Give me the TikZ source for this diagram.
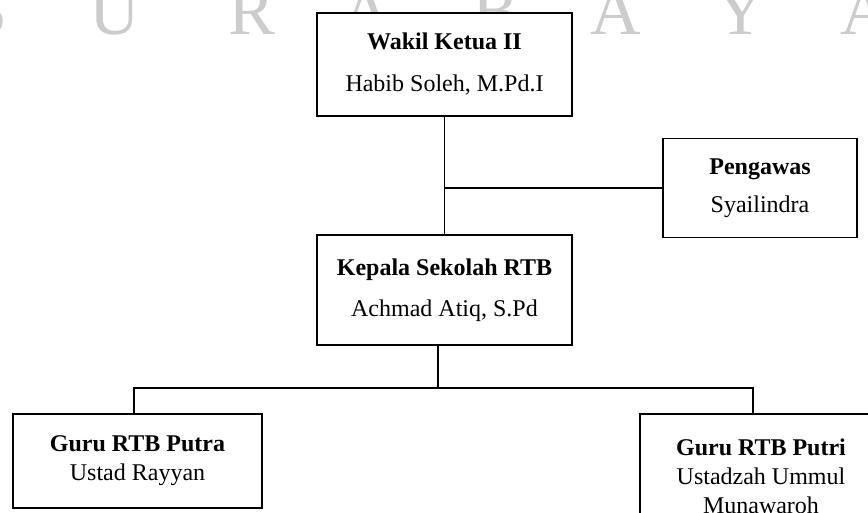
\documentclass[tikz,border=0pt]{standalone}
\usepackage{fontspec}
\setmainfont{Liberation Serif}
\tikzset{
    kotak/.style={draw, line width=1.5pt, fill=white, inner sep=0pt, align=center,
        font=\fontsize{24}{29}\selectfont},
    garis/.style={line width=1.5pt},
    tanda/.style={anchor=base, text=black!20, font=\fontsize{70}{70}\selectfont}
}
\begin{document}
\begin{tikzpicture}[x=1pt,y=-1pt]
        \useasboundingbox (0,0) rectangle (868,513);
        \clip (0,0) rectangle (868,513);
        \node [tanda] (w1) at (-12,35) {S};
        \node [tanda] (w2) at (115,35) {U};
        \node [tanda] (w3) at (252,35) {R};
        \node [tanda] (w4) at (367,35) {A};
        \node [tanda] (w5) at (496,35) {B};
        \node [tanda] (w6) at (616,35) {A};
        \node [tanda] (w7) at (741,35) {Y};
        \node [tanda] (w8) at (866,35) {A};
        \node [kotak, minimum width=255, minimum height=103] (wakil) at (444.5,64.5)
            {\textbf{Wakil Ketua II}\\[13pt] Habib Soleh, M.Pd.I};
        \node [kotak, minimum width=194, minimum height=99] (pengawas) at (760,188)
            {\textbf{Pengawas}\\[9pt] Syailindra};
        \node [kotak, minimum width=255, minimum height=110] (kepala) at (444.5,290)
            {\textbf{Kepala Sekolah RTB}\\[12pt] Achmad Atiq, S.Pd};
        \node [kotak, minimum width=249, minimum height=94] (putra) at (137.5,461)
            {\textbf{Guru RTB Putra}\\ Ustad Rayyan};
        \node [kotak, minimum width=242, minimum height=125] (putri) at (761,476.5)
            {\textbf{Guru RTB Putri}\\ Ustadzah Ummul\\ Munawaroh};
        \coordinate (cabang) at (wakil.south |- pengawas.west);
        \coordinate (tengah) at (438,388);
        \coordinate (kiri) at (134,388);
        \coordinate (kanan) at (753,388);
        \draw [garis] (wakil) -- (kepala);
        \draw [garis] (cabang) -- (pengawas.west);
        \draw [garis] (tengah |- kepala.south) -- (tengah);
        \draw [garis] (kiri |- putra.north) -- (kiri) -- (kanan) -- (kanan |- putri.north);
    \end{tikzpicture}
\end{document}
